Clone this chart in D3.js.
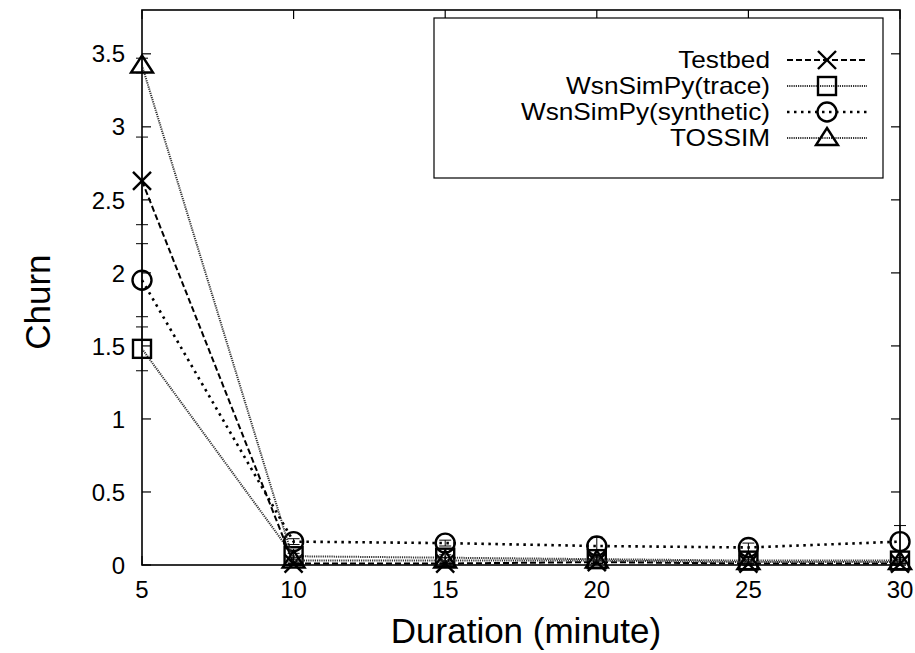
<!DOCTYPE html>
<html>
<head>
<meta charset="utf-8">
<script src="https://cdn.jsdelivr.net/npm/d3@7"></script>
<style>
  body { margin: 0; background: #fff; }
  text { font-family: "Liberation Sans", Arial, sans-serif; fill: #000; }
</style>
</head>
<body>
<div id="chart"></div>
<script>
"use strict";

// data
const durations = [5, 10, 15, 20, 25, 30];
const seriesNames = ["Testbed", "WsnSimPy(trace)", "WsnSimPy(synthetic)", "TOSSIM"];
const testbed = [2.63, 0.01, 0.01, 0.02, 0.01, 0.01];
const testbedErr = [0.30, 0.01, 0.01, 0.01, 0.01, 0.01];
const trace = [1.48, 0.06, 0.05, 0.04, 0.03, 0.03];
const traceErr = [0.15, 0.02, 0.02, 0.02, 0.02, 0.02];
const synthetic = [1.95, 0.16, 0.15, 0.13, 0.12, 0.16];
const syntheticErr = [0.25, 0.02, 0.02, 0.06, 0.03, 0.11];
const tossim = [3.42, 0.03, 0.03, 0.03, 0.02, 0.02];
const tossimErr = [0.05, 0.02, 0.02, 0.02, 0.02, 0.02];
const xTicks = [5, 10, 15, 20, 25, 30];
const yTicks = [0, 0.5, 1, 1.5, 2, 2.5, 3, 3.5];

const W = 915, H = 653;
const margin = { left: 142, right: 15, top: 10, bottom: 88 };

const svg = d3.select("#chart").append("svg")
  .attr("width", W).attr("height", H);

const x = d3.scaleLinear().domain([5, 30]).range([margin.left, W - margin.right]);
const y = d3.scaleLinear().domain([0, 3.8]).range([H - margin.bottom, margin.top]);

const styles = [
  { dash: "6,3", width: 2, color: "#000", marker: "x" },
  { dash: "1.2,1", width: 2, color: "#333", marker: "square" },
  { dash: "2.5,4.5", width: 2.6, color: "#000", marker: "circle" },
  { dash: "1.2,1", width: 2, color: "#333", marker: "triangle" }
];

const allSeries = [testbed, trace, synthetic, tossim];
const allErrs = [testbedErr, traceErr, syntheticErr, tossimErr];

function drawMarker(g, kind, cx, cy) {
  const m = g.append("g").attr("transform", `translate(${cx},${cy})`)
    .attr("fill", "none").attr("stroke", "#000").attr("stroke-width", 2.4);
  if (kind === "x") {
    m.append("path").attr("d", "M-9,-9L9,9M-9,9L9,-9");
  } else if (kind === "square") {
    m.append("rect").attr("x", -9).attr("y", -9).attr("width", 18).attr("height", 18);
  } else if (kind === "circle") {
    m.append("circle").attr("r", 9.5);
  } else {
    m.append("path").attr("d", "M0,-10L11,7L-11,7Z");
  }
}

// frame
svg.append("rect")
  .attr("x", margin.left).attr("y", margin.top)
  .attr("width", W - margin.left - margin.right)
  .attr("height", H - margin.top - margin.bottom)
  .attr("fill", "none").attr("stroke", "#000").attr("stroke-width", 1.6);

// ticks (gnuplot style, inward and mirrored)
const axisG = svg.append("g").attr("stroke", "#000").attr("stroke-width", 1.2);
yTicks.forEach(t => {
  axisG.append("line").attr("x1", x(5)).attr("x2", x(5) + 9).attr("y1", y(t)).attr("y2", y(t));
  axisG.append("line").attr("x1", x(30)).attr("x2", x(30) - 9).attr("y1", y(t)).attr("y2", y(t));
  svg.append("text").attr("x", margin.left - 17).attr("y", y(t)).attr("dy", "0.36em")
    .attr("text-anchor", "end").attr("font-size", 24).text(t);
});
xTicks.forEach(t => {
  axisG.append("line").attr("x1", x(t)).attr("x2", x(t)).attr("y1", y(0)).attr("y2", y(0) - 9);
  axisG.append("line").attr("x1", x(t)).attr("x2", x(t)).attr("y1", margin.top).attr("y2", margin.top + 9);
  svg.append("text").attr("x", x(t)).attr("y", 598)
    .attr("text-anchor", "middle").attr("font-size", 24).text(t);
});

// axis titles
svg.append("text").attr("x", x(17.5) + 5).attr("y", 643)
  .attr("text-anchor", "middle").attr("font-size", 35).text("Duration (minute)");
svg.append("text").attr("transform", `translate(50,${y(1.8)}) rotate(-90)`)
  .attr("text-anchor", "middle").attr("font-size", 35).text("Churn");

// series
const plot = svg.append("g");
allSeries.forEach((vals, i) => {
  const st = styles[i];
  const line = d3.line().x((d, j) => x(durations[j])).y(d => y(d));
  plot.append("path").datum(vals)
    .attr("d", line).attr("fill", "none")
    .attr("stroke", st.color).attr("stroke-width", st.width)
    .attr("stroke-dasharray", st.dash);
  vals.forEach((v, j) => {
    const e = allErrs[i][j];
    const cx = x(durations[j]);
    plot.append("path")
      .attr("d", `M${cx},${y(v - e)}V${y(v + e)}M${cx - 6},${y(v - e)}h12M${cx - 6},${y(v + e)}h12`)
      .attr("stroke", "#000").attr("stroke-width", 1).attr("fill", "none");
    drawMarker(plot, st.marker, cx, y(v));
  });
});

// legend
const legend = svg.append("g");
legend.append("rect").attr("x", 434).attr("y", 18).attr("width", 449).attr("height", 160)
  .attr("fill", "#fff").attr("stroke", "#000").attr("stroke-width", 1.2);
seriesNames.forEach((name, i) => {
  const st = styles[i];
  const ly = 60 + i * 26;
  legend.append("g").attr("transform", `translate(770,${ly}) scale(1.14,1)`)
    .append("text").attr("dy", "0.35em")
    .attr("text-anchor", "end").attr("font-size", 23).text(name);
  legend.append("line").attr("x1", 787).attr("x2", 867).attr("y1", ly).attr("y2", ly)
    .attr("stroke", st.color).attr("stroke-width", st.width)
    .attr("stroke-dasharray", st.dash);
  drawMarker(legend, st.marker, 827, ly);
});
</script>
</body>
</html>
